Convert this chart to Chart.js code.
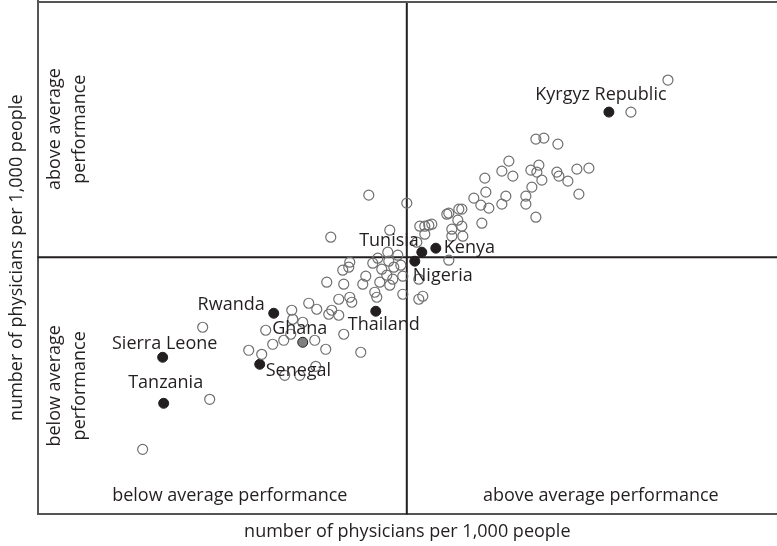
<!DOCTYPE html>
<html>
<head>
<meta charset="utf-8">
<script src="https://cdn.jsdelivr.net/npm/chart.js@4.4.0/dist/chart.umd.min.js"></script>
<style>
  html, body { margin: 0; padding: 0; background: #fff; }
  #wrap { width: 777px; height: 546px; }
</style>
</head>
<body>
<div id="wrap"><canvas id="chart"></canvas></div>
<script>
// standardised scores, 0 = average on both axes
const otherX = [
  2.61, 2.24, 1.29, 1.37, 1.51, 1.02, 0.95, 1.06, 1.24, 1.32, 1.30, 1.35, 1.50, 1.52, 1.61, 1.70, 1.82,
  1.72, 1.25, 1.19, 1.19, 0.99, 0.95, 0.78, 0.79, 0.67, 0.74, 0.82, 0.75, 1.29, 0.52, 0.55, 0.40, 0.42,
  0.51, 0.55, 0.45, 0.56, 0.45, 0.13, 0.18, 0.22, 0.25, 0.18, 0.10, 0.42, 0.00, -0.38, -0.76, -0.17,
  -0.19, -0.09, -0.57, -0.34, -0.29, -0.18, -0.64, -0.58, -0.25, -0.13, -0.06, -0.41, -0.20, -0.14,
  -0.27, -0.04, 0.12, -0.80, -0.63, -0.44, -0.17, -0.32, -0.30, -0.04, 0.12, 0.16, -0.68, -0.57, -0.55,
  -0.98, -0.90, -1.15, -0.78, -0.75, -0.68, -1.14, -1.04, -1.41, -1.34, -1.23, -1.16, -0.92, -0.81,
  -0.63, -0.46, -1.58, -1.45, -0.91, -1.22, -1.07, -2.04, -1.97, -2.64
];
const otherY = [
  1.77, 1.45, 1.18, 1.19, 1.13, 0.96, 0.86, 0.81, 0.87, 0.92, 0.85, 0.77, 0.85, 0.81, 0.76, 0.88, 0.89,
  0.63, 0.70, 0.61, 0.53, 0.61, 0.53, 0.79, 0.65, 0.59, 0.52, 0.49, 0.34, 0.40, 0.48, 0.48, 0.43, 0.44,
  0.37, 0.31, 0.28, 0.21, 0.21, 0.31, 0.31, 0.32, 0.33, 0.23, 0.15, -0.03, 0.54, 0.62, 0.20, 0.27,
  0.05, 0.02, -0.05, -0.06, -0.01, -0.04, -0.13, -0.10, -0.12, -0.10, -0.08, -0.19, -0.18, -0.22,
  -0.25, -0.19, -0.22, -0.25, -0.27, -0.27, -0.28, -0.35, -0.40, -0.37, -0.42, -0.39, -0.42, -0.40, -0.45,
  -0.46, -0.52, -0.53, -0.57, -0.53, -0.58, -0.62, -0.65, -0.73, -0.87, -0.83, -0.77, -0.83, -0.92,
  -0.77, -0.95, -0.93, -0.97, -1.09, -1.18, -1.18, -0.70, -1.42, -1.92
];

const namedCountries = ['Kyrgyz Republic', 'Tunisia', 'Kenya', 'Nigeria', 'Thailand',
  'Ghana', 'Rwanda', 'Senegal', 'Sierra Leone', 'Tanzania'];
const namedX = [2.02, 0.15, 0.29, 0.08, -0.31, -1.04, -1.33, -1.47, -2.44, -2.43];
const namedY = [1.45, 0.05, 0.09, -0.04, -0.54, -0.85, -0.56, -1.07, -1.00, -1.46];

const axisTitle = 'number of physicians per 1,000 people';
const lowLabel = 'below average performance';
const highLabel = 'above average performance';

// label placement next to each named dot: [dx, dy, align]
const labelPlace = {
  'Kyrgyz Republic': [-8, -17, 'center'],
  'Tunisia': [-3, -11, 'right'],
  'Kenya': [8, 0, 'left'],
  'Nigeria': [-2, 15, 'left'],
  'Thailand': [8, 14, 'center'],
  'Ghana': [-3, -13, 'center'],
  'Rwanda': [-9, -8, 'right'],
  'Senegal': [6, 7, 'left'],
  'Sierra Leone': [2, -13, 'center'],
  'Tanzania': [2, -20, 'center']
};

const FONT = '"Open Sans", "DejaVu Sans", sans-serif';
const INK = '#231f20';
const FRAME = '#555';
const TEXT_SIZE = 18;

const others = otherX.map((x, i) => ({ x: x, y: otherY[i] }));
const named = namedX.map((x, i) => ({ x: x, y: namedY[i], name: namedCountries[i] }));

const quadrantPlugin = {
  id: 'quadrants',
  beforeDatasetsDraw(chart) {
    const { ctx, chartArea: a, scales: { x, y } } = chart;
    const x0 = x.getPixelForValue(0);
    const y0 = y.getPixelForValue(0);
    ctx.save();
    ctx.strokeStyle = INK;
    ctx.lineWidth = 2;
    ctx.beginPath();
    ctx.moveTo(x0, a.top);
    ctx.lineTo(x0, a.bottom);
    ctx.moveTo(a.left, y0);
    ctx.lineTo(a.right, y0);
    ctx.stroke();
    // top edge of the frame
    ctx.strokeStyle = FRAME;
    ctx.beginPath();
    ctx.moveTo(a.left, a.top + 1);
    ctx.lineTo(a.right, a.top + 1);
    ctx.stroke();
    ctx.restore();
  },
  afterDatasetsDraw(chart) {
    const { ctx, chartArea: a, scales: { x, y } } = chart;
    const x0 = x.getPixelForValue(0);
    const y0 = y.getPixelForValue(0);
    ctx.save();
    ctx.fillStyle = INK;
    ctx.font = TEXT_SIZE + 'px ' + FONT;
    ctx.textBaseline = 'middle';

    // country names
    const meta = chart.getDatasetMeta(1);
    meta.data.forEach((pt, i) => {
      const p = labelPlace[namedCountries[i]];
      ctx.textAlign = p[2];
      ctx.fillText(namedCountries[i], pt.x + p[0], pt.y + p[1]);
    });

    // quadrant captions along the bottom
    ctx.textAlign = 'center';
    ctx.fillText(lowLabel, x0 - 177, a.bottom - 19);
    ctx.fillText(highLabel, x0 + 194, a.bottom - 19);

    // quadrant captions along the left, two lines each
    const words = [['above average', 'performance'], ['below average', 'performance']];
    const centres = [(a.top + y0) / 2, (y0 + a.bottom) / 2];
    words.forEach((lines, k) => {
      ctx.save();
      ctx.translate(a.left, centres[k]);
      ctx.rotate(-Math.PI / 2);
      ctx.fillText(lines[0], 0, 17);
      ctx.fillText(lines[1], 0, 42);
      ctx.restore();
    });
    ctx.restore();
  }
};

new Chart(document.getElementById('chart'), {
  type: 'scatter',
  data: {
    datasets: [
      {
        data: others,
        pointRadius: 5,
        pointBorderWidth: 1.2,
        pointBorderColor: '#6f6f6f',
        pointBackgroundColor: 'rgba(255,255,255,0)'
      },
      {
        data: named,
        pointRadius: 5,
        pointBorderWidth: 1,
        pointBorderColor: INK,
        pointBackgroundColor: named.map(d => d.name === 'Ghana' ? '#808080' : INK)
      }
    ]
  },
  options: {
    responsive: true,
    maintainAspectRatio: false,
    animation: false,
    layout: { autoPadding: false, padding: { left: 0, top: 1, right: 0, bottom: 0 } },
    plugins: { legend: { display: false }, tooltip: { enabled: false } },
    scales: {
      x: {
        min: -3.69,
        max: 3.70,
        grid: { display: false, drawTicks: false },
        ticks: { display: false },
        border: { display: true, color: FRAME, width: 2 },
        title: {
          display: true,
          text: axisTitle,
          color: INK,
          font: { family: FONT, size: TEXT_SIZE },
          padding: { top: 7, bottom: 3 }
        }
      },
      y: {
        min: -2.57,
        max: 2.56,
        grid: { display: false, drawTicks: false },
        ticks: { display: false },
        border: { display: true, color: FRAME, width: 2 },
        title: {
          display: true,
          text: axisTitle,
          color: INK,
          font: { family: FONT, size: TEXT_SIZE },
          padding: { top: 6, bottom: 10 }
        }
      }
    }
  },
  plugins: [quadrantPlugin]
});
</script>
</body>
</html>
